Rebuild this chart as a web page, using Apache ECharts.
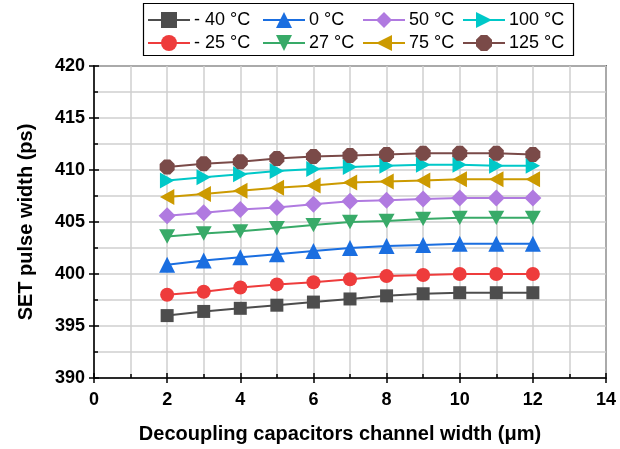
<!DOCTYPE html>
<html>
<head>
<meta charset="utf-8">
<script src="https://cdn.jsdelivr.net/npm/echarts@6/dist/echarts.min.js"></script>
<style>
  html, body { margin: 0; padding: 0; background: #fff; }
  #chart { width: 620px; height: 449px; }
</style>
</head>
<body>
<div id="chart"></div>
<script>
const widths = [2, 3, 4, 5, 6, 7, 8, 9, 10, 11, 12];

const tMinus40 = [396.0, 396.4, 396.7, 397.0, 397.3, 397.6, 397.9, 398.1, 398.2, 398.2, 398.2];
const tMinus25 = [398.0, 398.3, 398.7, 399.0, 399.2, 399.5, 399.8, 399.9, 400.0, 400.0, 400.0];
const t0 = [400.9, 401.3, 401.6, 401.9, 402.2, 402.5, 402.7, 402.8, 402.9, 402.9, 402.9];
const t27 = [403.6, 403.9, 404.1, 404.4, 404.7, 405.0, 405.1, 405.3, 405.4, 405.4, 405.4];
const t50 = [405.6, 405.9, 406.2, 406.4, 406.7, 407.0, 407.1, 407.2, 407.3, 407.3, 407.3];
const t75 = [407.4, 407.7, 408.0, 408.3, 408.5, 408.8, 408.9, 409.0, 409.1, 409.1, 409.1];
const t100 = [409.0, 409.3, 409.6, 409.9, 410.1, 410.3, 410.4, 410.5, 410.5, 410.4, 410.4];
const t125 = [410.3, 410.6, 410.8, 411.1, 411.3, 411.4, 411.5, 411.6, 411.6, 411.6, 411.5];

const names = ['- 40 \u00b0C', '- 25 \u00b0C', '0 \u00b0C', '27 \u00b0C', '50 \u00b0C', '75 \u00b0C', '100 \u00b0C', '125 \u00b0C'];
const values = [tMinus40, tMinus25, t0, t27, t50, t75, t100, t125];
const colors = ['#4d4d4d', '#ee3c3c', '#1a6ee0', '#38aa68', '#b07ae0', '#cc9a00', '#00c8c8', '#7a4a48'];
const symbols = [
  'rect', 'circle', 'triangle',
  'path://M0,0 L10,0 L5,9 Z',
  'diamond',
  'path://M0,5 L9,0 L9,10 Z',
  'path://M0,0 L9,5 L0,10 Z',
  'path://M3,0 L7,0 L10,3 L10,7 L7,10 L3,10 L0,7 L0,3 Z'
];
const sizes = [13, 14, 16, 16, 17, 16, 16, 15];

const font = 'Arial, "Liberation Sans", sans-serif';

const chart = echarts.init(document.getElementById('chart'));

const series = names.map((name, i) => ({
  name,
  type: 'line',
  xAxisIndex: 0,
  yAxisIndex: 0,
  data: widths.map((w, j) => [w, values[i][j]]),
  symbol: symbols[i],
  symbolSize: sizes[i],
  symbolKeepAspect: true,
  lineStyle: { color: colors[i], width: 2 },
  itemStyle: { color: colors[i] },
  animation: false
}));

// four legend columns, two items each
const legendCols = [[0, 1], [2, 3], [4, 5], [6, 7]];
const legendLeft = [147, 262, 362, 462];
const legends = legendCols.map((idx, c) => ({
  orient: 'vertical',
  left: legendLeft[c],
  top: 11,
  itemGap: 5,
  itemWidth: 42,
  itemHeight: 20,
  padding: 0,
  data: idx.map(k => names[k]),
  textStyle: { fontFamily: font, fontSize: 18, color: '#000', padding: [0, 0, 0, -1] }
}));

const baseX = {
  type: 'value', min: 0, max: 14, interval: 2
};
const baseY = {
  type: 'value', min: 390, max: 420, interval: 5
};

const option = {
  backgroundColor: '#fff',
  animation: false,
  legend: legends,
  graphic: [{
    type: 'rect',
    shape: { x: 143.5, y: 3.5, width: 430, height: 52 },
    style: { fill: 'none', stroke: '#000', lineWidth: 1.2 },
    z: 100
  }],
  grid: {
    left: 94, right: 14, top: 66, bottom: 68,
    show: true, borderColor: '#000', borderWidth: 1.5, backgroundColor: 'transparent'
  },
  xAxis: [
    Object.assign({}, baseX, {
      name: 'Decoupling capacitors channel width (\u03bcm)',
      nameLocation: 'middle',
      nameGap: 46,
      nameTextStyle: { fontFamily: font, fontSize: 20, fontWeight: 'bold', color: '#000', padding: [0, 20, 0, 0] },
      axisLine: { show: true, lineStyle: { color: '#000', width: 1.5 } },
      axisTick: { show: true, inside: false, length: 5, lineStyle: { color: '#000', width: 1.5 } },
      axisLabel: { fontFamily: font, fontSize: 18, fontWeight: 'bold', color: '#000', margin: 13 },
      splitLine: { show: true, lineStyle: { color: '#cfcfcf', width: 1.5 } },
      minorTick: { show: false, splitNumber: 2 },
      minorSplitLine: { show: true, lineStyle: { color: '#cfcfcf', width: 1.5 } }
    }),
    Object.assign({}, baseX, {
      position: 'bottom',
      axisLine: { show: false },
      axisTick: { show: true, inside: true, length: 5, lineStyle: { color: '#000', width: 1.5 } },
      minorTick: { show: true, splitNumber: 2, length: 4, lineStyle: { color: '#000', width: 1.5 } },
      axisLabel: { show: false },
      splitLine: { show: false }
    })
  ],
  yAxis: [
    Object.assign({}, baseY, {
      name: 'SET pulse width (ps)',
      nameLocation: 'middle',
      nameGap: 58,
      nameTextStyle: { fontFamily: font, fontSize: 20, fontWeight: 'bold', color: '#000' },
      axisLine: { show: true, lineStyle: { color: '#000', width: 1.5 } },
      axisTick: { show: true, inside: false, length: 5, lineStyle: { color: '#000', width: 1.5 } },
      axisLabel: { fontFamily: font, fontSize: 18, fontWeight: 'bold', color: '#000', margin: 9 },
      splitLine: { show: true, lineStyle: { color: '#cfcfcf', width: 1.5 } },
      minorTick: { show: false, splitNumber: 2 },
      minorSplitLine: { show: true, lineStyle: { color: '#cfcfcf', width: 1.5 } }
    }),
    Object.assign({}, baseY, {
      position: 'left',
      axisLine: { show: false },
      axisTick: { show: true, inside: true, length: 5, lineStyle: { color: '#000', width: 1.5 } },
      minorTick: { show: true, splitNumber: 2, length: 4, lineStyle: { color: '#000', width: 1.5 } },
      axisLabel: { show: false },
      splitLine: { show: false }
    })
  ],
  series
};

chart.setOption(option);
</script>
</body>
</html>
